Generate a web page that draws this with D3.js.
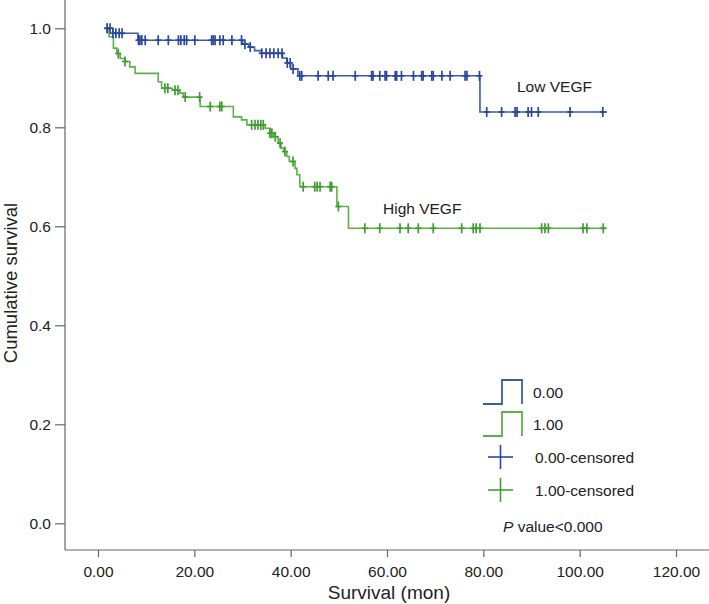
<!DOCTYPE html>
<html>
<head>
<meta charset="utf-8">
<script src="https://cdn.jsdelivr.net/npm/d3@7"></script>
<style>
  html, body { margin: 0; padding: 0; background: #fff; }
  svg { display: block; font-family: "Liberation Sans", Arial, Helvetica, sans-serif; }
</style>
</head>
<body>
<svg id="chart" width="709" height="604"></svg>
<script>
// ---------------- DATA ----------------
const groups = ["0.00", "1.00"];
const groupLabels = ["Low VEGF", "High VEGF"];

// Low VEGF (0.00): step points [month, cumulative survival after step]
const lowSteps = [
  [1.9, 1.000], [3.1, 0.990], [8.3, 0.976], [30.0, 0.968], [31.3, 0.962],
  [32.5, 0.955], [33.9, 0.9495], [38.3, 0.940], [39.2, 0.930], [40.0, 0.918],
  [41.5, 0.904], [79.3, 0.831]
];
const lowEnd = 105.7;
const lowCensored = [
  1.9, 2.5, 3.1, 3.7, 4.4, 5.0,
  8.4, 8.7, 9.1, 9.8, 12.5, 14.6, 16.7, 17.2, 17.9, 18.4, 20.1, 23.6, 23.9, 24.3,
  25.3, 26.0, 27.8, 29.8, 30.5, 31.6,
  34.0, 34.9, 35.7, 36.5, 37.4, 38.2, 39.3, 39.9, 40.5,
  41.9, 42.3, 45.7, 47.8, 48.8, 53.4, 56.8, 57.1, 58.5, 59.6, 59.9, 61.7, 62.0, 63.0,
  65.5, 67.2, 67.5, 69.3, 69.6, 71.4, 73.1, 76.2, 76.6, 79.2,
  80.7, 83.8, 86.6, 87.0, 89.3, 90.0, 91.4, 98.0, 104.8
];

// High VEGF (1.00)
const highSteps = [
  [1.9, 1.000], [2.3, 0.983], [3.2, 0.960], [3.9, 0.949], [4.6, 0.939], [5.6, 0.933],
  [6.6, 0.922], [7.7, 0.909], [12.5, 0.892], [13.2, 0.879], [15.4, 0.875],
  [17.0, 0.869], [17.7, 0.861], [21.2, 0.842], [28.1, 0.821], [29.8, 0.815],
  [30.9, 0.805], [34.7, 0.798], [35.7, 0.788], [36.5, 0.781], [37.4, 0.768],
  [38.0, 0.758], [38.6, 0.751], [39.2, 0.741], [39.7, 0.731], [40.9, 0.717],
  [41.3, 0.704], [41.9, 0.680], [49.6, 0.640], [52.0, 0.596]
];
const highEnd = 105.6;
const highCensored = [
  1.9, 4.2, 5.6, 13.9, 14.5, 16.0, 16.6, 18.1, 21.1, 23.3, 25.3, 25.7,
  31.9, 32.6, 33.2, 33.8, 34.3, 35.7, 36.1, 36.8, 37.8, 38.8, 40.5,
  42.6, 45.0, 45.5, 46.1, 48.2, 48.5, 49.9,
  55.4, 58.5, 62.7, 64.4, 66.5, 69.6, 75.5, 77.9, 78.5, 79.3,
  92.1, 92.8, 93.5, 100.7, 101.5, 104.9
];

const xTicks = [0, 20, 40, 60, 80, 100, 120];
const yTicks = [0, 0.2, 0.4, 0.6, 0.8, 1.0];
const legendItems = ["0.00", "1.00", "0.00-censored", "1.00-censored"];
const pValueText = "value<0.000";

// ---------------- LAYOUT ----------------
const svg = d3.select("#chart");
const W = 709, H = 604;
const axisX = 65, axisY = 550;
const blue = "#3b5bab", blueDark = "#2a479f";
const green = "#5cb14a", greenDark = "#3f9d32";
const axisColor = "#666";
const textColor = "#222";

const x = d3.scaleLinear().domain([0, 120]).range([98, 676]);
const y = d3.scaleLinear().domain([0, 1]).range([523.3, 28.3]);

// axis lines
svg.append("line").attr("x1", axisX).attr("x2", axisX).attr("y1", 0).attr("y2", axisY)
  .attr("stroke", axisColor).attr("stroke-width", 1.2);
svg.append("line").attr("x1", axisX).attr("x2", W).attr("y1", axisY).attr("y2", axisY)
  .attr("stroke", axisColor).attr("stroke-width", 1.2);

// y axis
const yAxis = svg.append("g").attr("transform", `translate(${axisX},0)`)
  .call(d3.axisLeft(y).tickValues(yTicks).tickFormat(d3.format(".1f")).tickSize(10).tickPadding(4));
yAxis.select(".domain").remove();
yAxis.selectAll(".tick line").attr("stroke", axisColor).attr("stroke-width", 1.2);
yAxis.selectAll(".tick text").attr("fill", textColor).style("font-size", "15.5px")
  .style("font-family", '"Liberation Sans", Arial, sans-serif');

// x axis
const xAxis = svg.append("g").attr("transform", `translate(0,${axisY})`)
  .call(d3.axisBottom(x).tickValues(xTicks).tickFormat(d3.format(".2f")).tickSize(7).tickPadding(9));
xAxis.select(".domain").remove();
xAxis.selectAll(".tick line").attr("stroke", axisColor).attr("stroke-width", 1.2);
xAxis.selectAll(".tick text").attr("fill", textColor).style("font-size", "15.5px")
  .style("font-family", '"Liberation Sans", Arial, sans-serif');

// axis titles
svg.append("text").attr("x", (axisX + W) / 2 + 2).attr("y", 599)
  .attr("text-anchor", "middle").attr("fill", textColor).style("font-size", "19px")
  .text("Survival (mon)");
svg.append("text").attr("transform", `translate(16.5,${283}) rotate(-90)`)
  .attr("text-anchor", "middle").attr("fill", textColor).style("font-size", "18.5px")
  .text("Cumulative survival");

// ---------------- CURVES ----------------
function survAt(steps, t) {
  let s = steps[0][1];
  for (const [tt, ss] of steps) { if (tt <= t + 1e-9) s = ss; }
  return s;
}
const line = d3.line().x(d => x(d[0])).y(d => y(d[1])).curve(d3.curveStepAfter);

function drawCurve(steps, end, censored, color, markColor) {
  const pts = steps.concat([[end, steps[steps.length - 1][1]]]);
  svg.append("path").datum(pts).attr("d", line)
    .attr("fill", "none").attr("stroke", color).attr("stroke-width", 1.6);
  const g = svg.append("g");
  censored.forEach(t => {
    const cx = x(t), cy = y(survAt(steps, t));
    g.append("line").attr("x1", cx).attr("x2", cx).attr("y1", cy - 5).attr("y2", cy + 5)
      .attr("stroke", markColor).attr("stroke-width", 1.7);
    g.append("line").attr("x1", cx - 3).attr("x2", cx + 3).attr("y1", cy).attr("y2", cy)
      .attr("stroke", markColor).attr("stroke-width", 1.7);
  });
}
drawCurve(highSteps, highEnd, highCensored, green, greenDark);
drawCurve(lowSteps, lowEnd, lowCensored, blue, blueDark);

// group labels
svg.append("text").attr("x", 517).attr("y", 92).attr("fill", textColor)
  .style("font-size", "15.5px").text(groupLabels[0]);
svg.append("text").attr("x", 383).attr("y", 214).attr("fill", textColor)
  .style("font-size", "15.5px").text(groupLabels[1]);

// ---------------- LEGEND ----------------
const lg = svg.append("g");
const stepColors = [blue, green];
const stepTop = [380, 412];
stepTop.forEach((top, i) => {
  const bot = top + 24;
  lg.append("path")
    .attr("d", `M483,${bot} H502 V${top} H522 V${bot}`)
    .attr("fill", "none").attr("stroke", stepColors[i]).attr("stroke-width", 1.8);
  lg.append("text").attr("x", 533).attr("y", top + 18).attr("fill", textColor)
    .style("font-size", "15.5px").text(legendItems[i]);
});
const crossY = [457, 490];
const crossColors = [blueDark, greenDark];
crossY.forEach((cy, i) => {
  lg.append("line").attr("x1", 488).attr("x2", 513).attr("y1", cy).attr("y2", cy)
    .attr("stroke", crossColors[i]).attr("stroke-width", 1.6);
  lg.append("line").attr("x1", 500.5).attr("x2", 500.5).attr("y1", cy - 12).attr("y2", cy + 12)
    .attr("stroke", crossColors[i]).attr("stroke-width", 1.6);
  lg.append("text").attr("x", 535).attr("y", cy + 6).attr("fill", textColor)
    .style("font-size", "15.5px").text(legendItems[i + 2]);
});
const pt = lg.append("text").attr("x", 503).attr("y", 532).attr("fill", textColor)
  .style("font-size", "15.5px");
pt.append("tspan").style("font-style", "italic").text("P");
pt.append("tspan").text(" " + pValueText);
</script>
</body>
</html>
